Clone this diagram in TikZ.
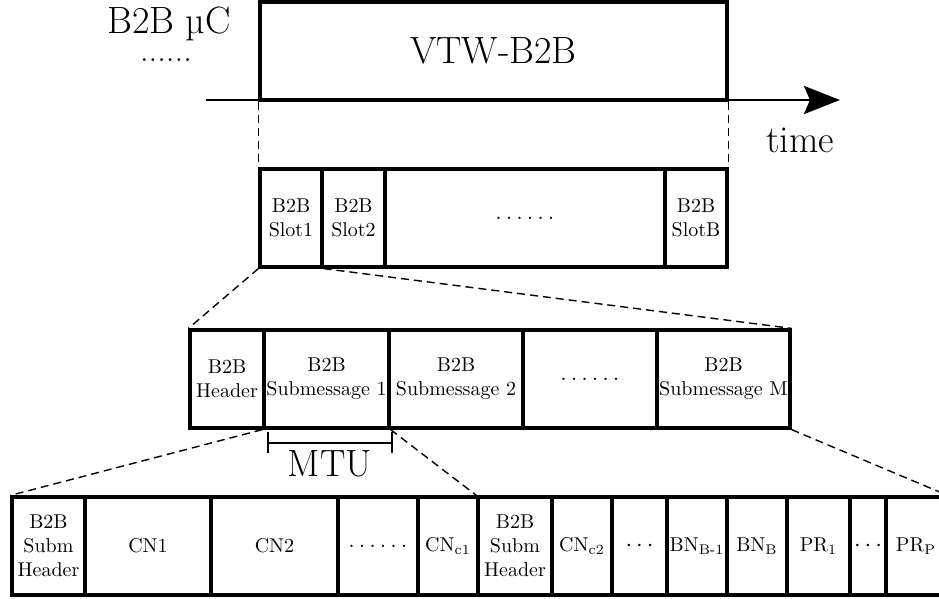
\documentclass[tikz,border=0pt]{standalone}
\usetikzlibrary{arrows.meta}
\begin{document}
\begin{tikzpicture}[
    x=0.5pt, y=-0.5pt,
    cell/.style={draw, line width=1.6pt, minimum height=49pt, inner sep=0pt, align=center},
    zoomline/.style={dash pattern=on 4pt off 2.5pt, line width=0.7pt},
    big/.style={font=\fontsize{19}{23}\selectfont, inner sep=0pt}
  ]
  \useasboundingbox (0,0) rectangle (939,599);
  % time axis
  \node[cell, minimum width=233.5pt, font=\fontsize{19}{23}\selectfont] (vtw) at (493.5,51) {VTW-B2B};
  \coordinate (t0) at (206,100);
  \coordinate (t1) at (840,100);
  \draw[line width=1.4pt, -{Stealth[length=18pt, width=14pt, inset=3pt]}] (t0) -- (t1);
  \node[big, anchor=base] (mcu) at (169,34) {B2B µC};
  \node[big, anchor=base, font=\LARGE] (mdots) at (166,62) {......};
  \node[big, anchor=base] (time) at (800,153) {time};
  % slots
  \node[cell, minimum width=31pt] (slot1) at (291,218) {B2B\\Slot1};
  \node[cell, minimum width=31.5pt] (slot2) at (353.5,218) {B2B\\Slot2};
  \node[cell, minimum width=140pt, font=\large] (slotdots) at (525,218) {$\ldots\ldots$};
  \node[cell, minimum width=31pt] (slotB) at (696,218) {B2B\\SlotB};
  \draw[zoomline] (vtw.south west) -- (slot1.north west);
  \draw[zoomline] (vtw.south east) -- (slotB.north east);
  % submessages
  \node[cell, minimum width=37pt] (hdr) at (227,379) {B2B\\Header};
  \node[cell, minimum width=62.5pt] (sub1) at (326.5,379) {B2B\\Submessage 1};
  \node[cell, minimum width=67pt] (sub2) at (456,379) {B2B\\Submessage 2};
  \node[cell, minimum width=67pt, font=\large] (subdots) at (590,379) {$\ldots\ldots$};
  \node[cell, minimum width=66.5pt] (subM) at (723.5,379) {B2B\\Submessage M};
  \draw[zoomline] (slot1.south west) -- (hdr.north west);
  \draw[zoomline] (slot1.south east) -- (subM.north east);
  % MTU
  \coordinate (mtuL) at (267,443);
  \coordinate (mtuR) at (393,443);
  \draw[line width=1pt, {Bar[width=10.5pt]}-{Bar[width=10.5pt]}] (mtuL) -- (mtuR);
  \node[big, anchor=base] (mtu) at (330,477) {MTU};
  % content of one submessage
  \node[cell, minimum width=36.5pt] (bh1) at (48.5,546) {B2B\\Subm\\Header};
  \node[cell, minimum width=63pt] (cn1) at (148,546) {CN1};
  \node[cell, minimum width=63.5pt] (cn2) at (274.5,546) {CN2};
  \node[cell, minimum width=40pt, font=\large] (cndots) at (378,546) {$\ldots\ldots$};
  \node[cell, minimum width=30pt] (cnc1) at (448,546) {CN\textsubscript{c1}};
  \node[cell, minimum width=37pt] (bh2) at (515,546) {B2B\\Subm\\Header};
  \node[cell, minimum width=30pt] (cnc2) at (582,546) {CN\textsubscript{c2}};
  \node[cell, minimum width=27.5pt, font=\large] (bdots) at (639.5,546) {$\cdots$};
  \node[cell, minimum width=30.5pt] (bnb1) at (697,546) {BN\textsubscript{B-1}};
  \node[cell, minimum width=30pt] (bnb) at (757,546) {BN\textsubscript{B}};
  \node[cell, minimum width=31.5pt] (pr1) at (818.5,546) {PR\textsubscript{1}};
  \node[cell, minimum width=18pt, font=\large] (prdots) at (868,546) {$\cdots$};
  \node[cell, minimum width=30pt] (prP) at (916,546) {PR\textsubscript{P}};
  \draw[zoomline] (sub1.south west) -- (bh1.north west);
  \draw[zoomline] (sub1.south east) -- (bh2.north west);
  \draw[zoomline] (subM.south east) -- (prP.north east);
\end{tikzpicture}
\end{document}
